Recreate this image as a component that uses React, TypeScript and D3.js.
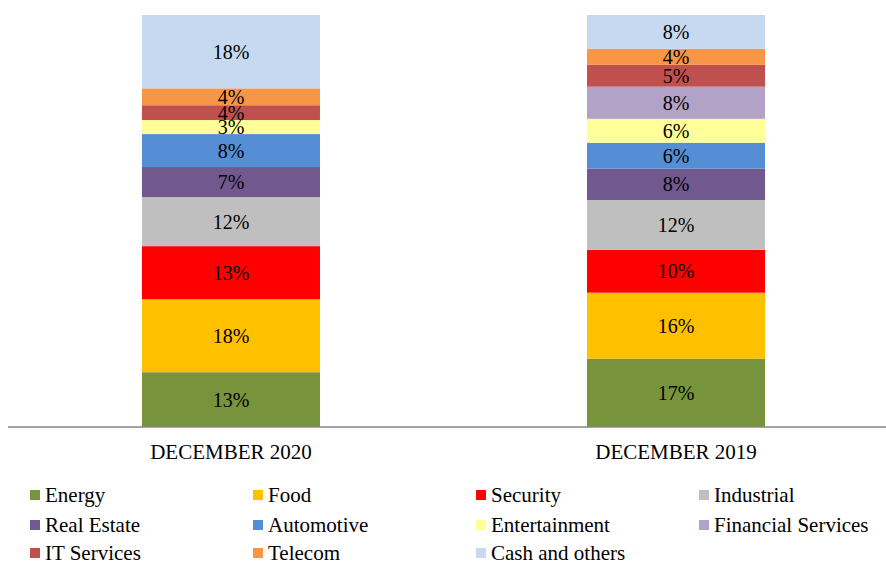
import * as d3 from "d3";
import {useEffect, useRef} from "react";

const periods = ["DECEMBER 2020", "DECEMBER 2019"];
const sectors = ["Energy", "Food", "Security", "Industrial", "Real Estate", "Automotive",
    "Entertainment", "Financial Services", "IT Services", "Telecom", "Cash and others"];
const dec2020 = [0.133, 0.177, 0.129, 0.119, 0.073, 0.080, 0.034, 0, 0.036, 0.041, 0.178];
const dec2019 = [0.166, 0.160, 0.104, 0.121, 0.076, 0.063, 0.058, 0.078, 0.053, 0.039, 0.082];
const colors = ["#77933C", "#FFC000", "#FF0000", "#BFBFBF", "#71588F", "#558ED5",
    "#FFFF99", "#B3A2C7", "#C0504D", "#F79646", "#C6D9F1"];

const W = 886, H = 565;
const FONT = "'Liberation Serif', 'Times New Roman', serif";

export default function App() {
    const svgRef = useRef(null);

    useEffect(() => {
        if (!svgRef.current) return;
        const svg = d3.select(svgRef.current);
        svg.selectAll("*").remove();

        const rows = periods.map((p, i) => {
            const r: any = {period: p};
            const vals = i === 0 ? dec2020 : dec2019;
            sectors.forEach((s, j) => r[s] = vals[j]);
            return r;
        });
        const stacked = d3.stack().keys(sectors)(rows);

        const x = d3.scaleBand().domain(periods).range([8, 899]).paddingInner(0.6).paddingOuter(0.301);
        const y = d3.scaleLinear().domain([0, 1]).range([427, 15]);
        const color = d3.scaleOrdinal<string>().domain(sectors).range(colors);

        const layers = svg.append("g").selectAll("g").data(stacked).join("g")
            .attr("fill", d => color(d.key));
        layers.selectAll("rect").data(d => d).join("rect")
            .attr("x", (d: any) => x(d.data.period)!)
            .attr("width", x.bandwidth())
            .attr("y", d => y(d[1]))
            .attr("height", d => y(d[0]) - y(d[1]));

        // segment labels (the small 2020 ones overlap, as in the original)
        const fmt = d3.format(".0%");
        layers.selectAll("text").data(d => d.filter(v => v[1] - v[0] > 0)).join("text")
            .attr("x", (d: any) => x(d.data.period)! + x.bandwidth() / 2)
            .attr("y", d => (y(d[0]) + y(d[1])) / 2)
            .attr("dy", "0.35em")
            .attr("text-anchor", "middle")
            .attr("fill", "#000")
            .style("font-family", FONT)
            .style("font-size", "20px")
            .text(d => fmt(d[1] - d[0]));

        // x axis
        svg.append("line")
            .attr("x1", 8).attr("x2", W).attr("y1", 427).attr("y2", 427)
            .attr("stroke", "#868686").attr("stroke-width", 1.4);
        svg.append("g").selectAll("text").data(periods).join("text")
            .attr("x", d => x(d)! + x.bandwidth() / 2)
            .attr("y", 459)
            .attr("text-anchor", "middle")
            .style("font-family", FONT)
            .style("font-size", "21px")
            .text(d => d);

        // legend
        const colX = [30, 253, 476, 699];
        const rowY = [495, 525, 553];
        const leg = svg.append("g").selectAll("g").data(sectors).join("g")
            .attr("transform", (d, i) => `translate(${colX[i % 4]},${rowY[Math.floor(i / 4)]})`);
        leg.append("rect")
            .attr("x", 0).attr("y", -5).attr("width", 10).attr("height", 10)
            .attr("fill", d => color(d));
        leg.append("text")
            .attr("x", 15).attr("y", 0).attr("dy", "0.33em")
            .style("font-family", FONT)
            .style("font-size", "21px")
            .text(d => d);
    }, []);

    return (
        <svg ref={svgRef} width={W} height={H}
             style={{position: "absolute", left: 0, top: 0, background: "#fff"}}></svg>
    );
}
